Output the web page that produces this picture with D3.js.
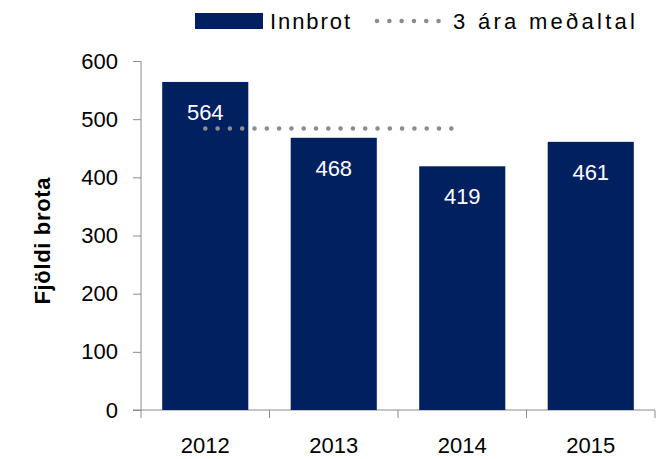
<!DOCTYPE html>
<html lang="is">
<head>
  <meta charset="UTF-8">
  <title>Innbrot</title>
  <style>
    body { margin: 0; background: #fff; }
    text { font-family: "Liberation Sans", Arial, sans-serif; }
    .axis path, .axis line { stroke: #8c8c8c; }
  </style>
</head>
<body>
  <div id="chart"></div>
  <script src="https://cdn.jsdelivr.net/npm/d3@7"></script>
  <script>
    // gögn
    var years = ['2012', '2013', '2014', '2015'];
    var innbrot = [564, 468, 419, 461];
    var avgYears = ['2012', '2013', '2014'];
    var avg3 = [484, 484, 484];
    var yTicks = [0, 100, 200, 300, 400, 500, 600];

    var W = 659, H = 459;
    var m = { top: 61, right: 4, bottom: 49, left: 141 };
    var barColor = '#002060', dotColor = '#8c8c8c';

    var svg = d3.select('#chart').append('svg')
      .attr('width', W).attr('height', H);

    var x = d3.scaleBand().domain(years)
      .range([m.left, W - m.right]).paddingInner(0.33).paddingOuter(0.165);
    var y = d3.scaleLinear().domain([0, 600]).range([H - m.bottom, m.top]);

    // y axis
    var yAxis = svg.append('g').attr('class', 'axis')
      .attr('transform', 'translate(' + m.left + ',0)')
      .call(d3.axisLeft(y).tickValues(yTicks).tickSize(8).tickPadding(15));
    yAxis.selectAll('text').style('font-size', '22px').attr('fill', '#000');
    yAxis.select('.domain').attr('d', 'M0,' + y(600) + 'V' + y(0));

    // x axis, ticks between categories
    var xg = svg.append('g').attr('class', 'axis')
      .attr('transform', 'translate(0,' + y(0) + ')');
    var bounds = d3.range(years.length + 1).map(function (i) { return m.left + i * (W - m.right - m.left) / years.length; });
    xg.append('line').attr('x1', m.left - 8).attr('x2', W - m.right).attr('y1', 0).attr('y2', 0);
    xg.selectAll('line.tk').data(bounds).enter().append('line').attr('class', 'tk')
      .attr('x1', function (d) { return d; }).attr('x2', function (d) { return d; })
      .attr('y1', 0).attr('y2', 8);
    xg.selectAll('text').data(years).enter().append('text')
      .attr('x', function (d) { return x(d) + x.bandwidth() / 2; })
      .attr('y', 43).attr('text-anchor', 'middle')
      .style('font-size', '22px').text(function (d) { return d; });

    // bars
    svg.selectAll('rect.bar').data(innbrot).enter().append('rect').attr('class', 'bar')
      .attr('x', function (d, i) { return x(years[i]); })
      .attr('y', function (d) { return y(d); })
      .attr('width', x.bandwidth())
      .attr('height', function (d) { return y(0) - y(d); })
      .attr('fill', barColor);

    svg.selectAll('text.lbl').data(innbrot).enter().append('text').attr('class', 'lbl')
      .attr('x', function (d, i) { return x(years[i]) + x.bandwidth() / 2; })
      .attr('y', function (d) { return y(d) + 38; })
      .attr('text-anchor', 'middle').attr('fill', '#fff')
      .style('font-size', '22px').text(function (d) { return d; });

    // 3 ára meðaltal
    var line = d3.line()
      .x(function (d, i) { return x(avgYears[i]) + x.bandwidth() / 2; })
      .y(function (d) { return y(d); });
    svg.append('path').datum(avg3).attr('d', line)
      .attr('fill', 'none').attr('stroke', dotColor).attr('stroke-width', 4.5)
      .attr('stroke-linecap', 'round').attr('stroke-dasharray', '0.1 12.2');

    // legend
    var lg = svg.append('g');
    lg.append('rect').attr('x', 195).attr('y', 13).attr('width', 68).attr('height', 16).attr('fill', barColor);
    lg.append('text').attr('x', 270).attr('y', 29).style('font-size', '22px')
      .attr('textLength', 80).attr('lengthAdjust', 'spacing').text('Innbrot');
    lg.append('line').attr('x1', 377).attr('x2', 440).attr('y1', 21).attr('y2', 21)
      .attr('stroke', dotColor).attr('stroke-width', 4.5)
      .attr('stroke-linecap', 'round').attr('stroke-dasharray', '0.1 12.2');
    lg.append('text').attr('x', 453).attr('y', 29).style('font-size', '22px')
      .attr('textLength', 182).attr('lengthAdjust', 'spacing').text('3 ára meðaltal');

    // y title
    svg.append('text')
      .attr('transform', 'translate(50,241) rotate(-90)')
      .attr('text-anchor', 'middle').style('font-size', '22px').style('font-weight', 'bold')
      .attr('textLength', 127).attr('lengthAdjust', 'spacing')
      .text('Fjöldi brota');
  </script>
</body>
</html>
